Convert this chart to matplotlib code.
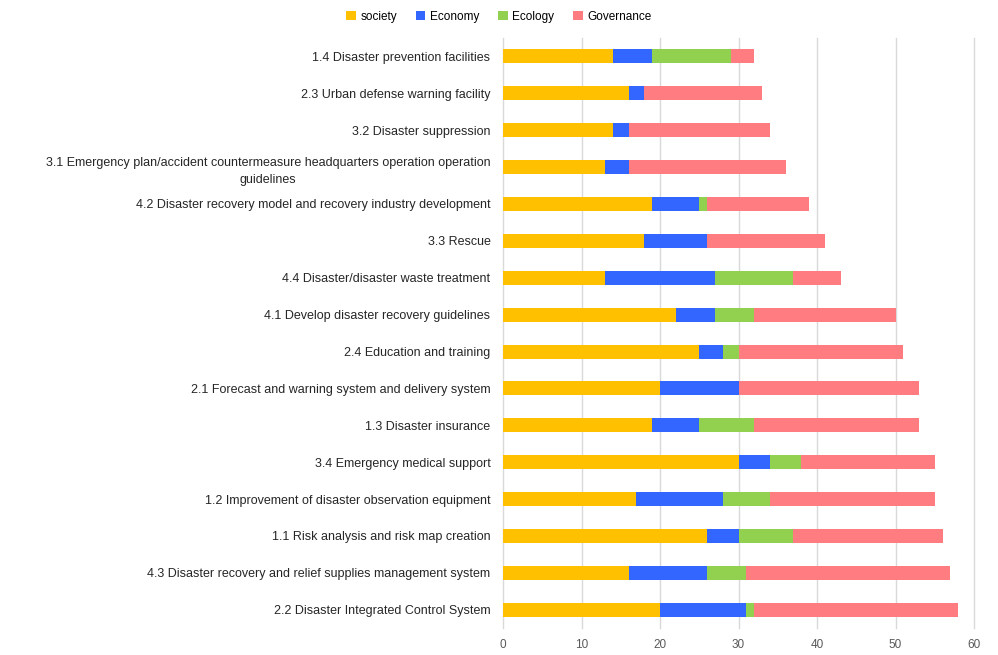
import numpy as np
import matplotlib
matplotlib.use('Agg')
import matplotlib.pyplot as plt

matplotlib.rcParams['font.family'] = ['Liberation Sans', 'DejaVu Sans']

# categories from top to bottom
categories = [
    '1.4 Disaster prevention facilities',
    '2.3 Urban defense warning facility',
    '3.2 Disaster suppression',
    '3.1 Emergency plan/accident countermeasure headquarters operation operation\nguidelines',
    '4.2 Disaster recovery model and recovery industry development',
    '3.3 Rescue',
    '4.4 Disaster/disaster waste treatment',
    '4.1 Develop disaster recovery guidelines',
    '2.4 Education and training',
    '2.1 Forecast and warning system and delivery system',
    '1.3 Disaster insurance',
    '3.4 Emergency medical support',
    '1.2 Improvement of disaster observation equipment',
    '1.1 Risk analysis and risk map creation',
    '4.3 Disaster recovery and relief supplies management system',
    '2.2 Disaster Integrated Control System',
]
society = [14, 16, 14, 13, 19, 18, 13, 22, 25, 20, 19, 30, 17, 26, 16, 20]
economy = [5, 2, 2, 3, 6, 8, 14, 5, 3, 10, 6, 4, 11, 4, 10, 11]
ecology = [10, 0, 0, 0, 1, 0, 10, 5, 2, 0, 7, 4, 6, 7, 5, 1]
governance = [3, 15, 18, 20, 13, 15, 6, 18, 21, 23, 21, 17, 21, 19, 26, 26]

series = [('society', society, '#ffc000'),
          ('Economy', economy, '#3366ff'),
          ('Ecology', ecology, '#92d050'),
          ('Governance', governance, '#ff7c80')]

fig = plt.figure(figsize=(9.98, 6.55), dpi=100, facecolor='w')
ax = fig.add_axes([0.504, 0.041, 0.472, 0.901])

y = np.arange(len(categories))
left = np.zeros(len(categories))
for name, vals, col in series:
    vals = np.array(vals)
    ax.barh(y, vals, left=left, height=0.38, color=col, label=name, zorder=3)
    left += vals

ax.set_ylim(len(categories) - 0.5, -0.5)
ax.set_xlim(0, 60)
ax.set_xticks(range(0, 61, 10))
ax.set_yticks(y)
ax.set_yticklabels(categories, fontsize=9, color='#262626',
                   multialignment='center', linespacing=1.6)
ax.tick_params(axis='x', labelsize=8.5, colors='#595959', length=0, pad=8)
ax.tick_params(axis='y', length=0, pad=9)
ax.grid(axis='x', color='#d9d9d9', linewidth=1, zorder=0)
for gl in ax.get_xgridlines():
    gl.set_clip_on(False)
for s in ax.spines.values():
    s.set_visible(False)

fig.legend(loc='upper center', bbox_to_anchor=(0.5, 1.0), ncol=4, frameon=False,
           fontsize=8.5, handlelength=0.8, handleheight=0.8, handletextpad=0.4,
           columnspacing=1.6)

plt.savefig('out.png', dpi=100, facecolor='w')
